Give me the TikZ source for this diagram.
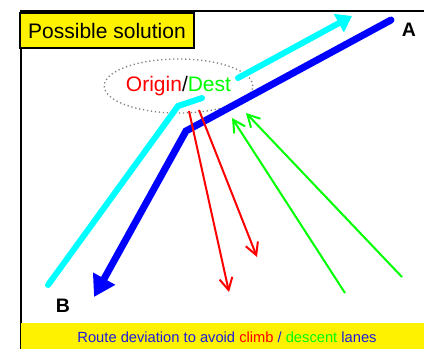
\documentclass[tikz,border=0pt]{standalone}
\usepackage{fontspec}
\setmainfont{Liberation Sans}
\usetikzlibrary{arrows.meta,shapes.geometric}

\definecolor{capblue}{RGB}{30,30,220}
\definecolor{aqua}{RGB}{0,255,255}
\definecolor{lanered}{RGB}{255,0,0}
\definecolor{lanegreen}{RGB}{0,255,0}

\tikzset{
    route/.style={line width=7pt, line cap=round},
    lane/.style={line width=2pt, -{Straight Barb[length=12pt,width=13pt]}},
    endlabel/.style={font=\bfseries\fontsize{19.5}{20}\selectfont}
}

\begin{document}
\begin{tikzpicture}[x=1pt, y=-1pt, >=Stealth, thick]
    \useasboundingbox (0,0) rectangle (424,349);

    % Frame
    \draw[line width=2pt] (21,349) -- (21,11) -- (424,11);

    % Caption band
    \fill[yellow] (21,323) rectangle (424,349);
    \node[font=\fontsize{14.7}{16}\selectfont, text=capblue] (caption) at (227,337)
        {Route deviation to avoid \textcolor{lanered}{climb} / \textcolor{lanegreen}{descent} lanes};

    % Title box
    \node[draw, fill=yellow, line width=2pt, inner sep=0pt, anchor=north west,
          minimum width=174pt, minimum height=35pt,
          font=\fontsize{21}{22}\selectfont] (title) at (19,12) {Possible solution};

    % Origin/Dest
    \node[ellipse, draw=gray, line width=1.3pt, dash pattern=on 1.3pt off 2.7pt,
          minimum width=121pt, minimum height=54pt, inner sep=0pt,
          font=\fontsize{21}{22}\selectfont] (od) at (178.5,86)
        {\textcolor{lanered}{Origin}/\textcolor{lanegreen}{Dest}};

    % End labels
    \node[endlabel] (A) at (409,30) {A};
    \node[endlabel] (B) at (63,305.5) {B};

    % Route points
    \coordinate (aEnd) at (391,20);
    \coordinate (bend) at (186,131);
    \coordinate (bEnd) at (94,297);
    \coordinate (cStart) at (48,285);
    \coordinate (cBend) at (178,106);
    \coordinate (cStop) at (202,98);
    \coordinate (cGo) at (238,78);
    \coordinate (cTip) at (352,16);

    % Blue route A to B
    \draw[route, blue, -{Triangle[length=21pt,width=24pt]}] (aEnd) -- (bend) -- (bEnd);

    % Aqua route B to A
    \draw[route, aqua, line width=6pt] (cStart) -- (cBend) -- (cStop);
    \draw[route, aqua, line width=6pt, -{Triangle[length=15pt,width=20pt]}] (cGo) -- (cTip);

    % Climb lanes
    \coordinate (c1) at (189,111);
    \coordinate (c1t) at (229,292);
    \coordinate (c2) at (199,110);
    \coordinate (c2t) at (257,257);
    \draw[lane, lanered] (c1) -- (c1t);
    \draw[lane, lanered] (c2) -- (c2t);

    % Descent lanes
    \coordinate (d1) at (345,293);
    \coordinate (d1t) at (232,118);
    \coordinate (d2) at (402,277);
    \coordinate (d2t) at (246,113);
    \draw[lane, lanegreen] (d1) -- (d1t);
    \draw[lane, lanegreen] (d2) -- (d2t);
\end{tikzpicture}
\end{document}
